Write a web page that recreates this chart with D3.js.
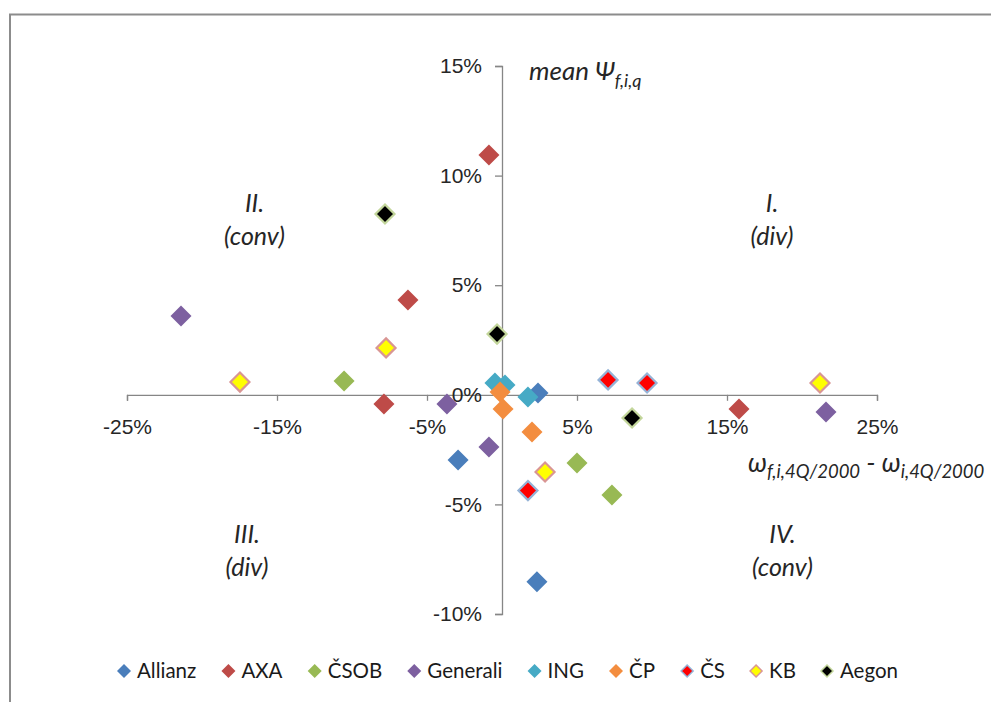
<!DOCTYPE html>
<html>
<head>
<meta charset="utf-8">
<script src="https://cdn.jsdelivr.net/npm/d3@7"></script>
<style>
  body { margin: 0; background: #fff; }
  svg { display: block; font-family: Lato, "Noto Sans", sans-serif; }
</style>
</head>
<body>
<div id="chart"></div>
<script>
// data (values in %)
const seriesNames = ['Allianz', 'AXA', 'ČSOB', 'Generali', 'ING', 'ČP', 'ČS', 'KB', 'Aegon'];
const fillColors = ['#4A7EBB', '#BE4B48', '#98B954', '#7D60A0', '#46AAC5', '#F38D3F', '#FF0000', '#FFFF00', '#000000'];
const strokeColors = [null, null, null, null, null, null, '#95B3D7', '#D99694', '#C3D69B'];

const allianzX = [-2.93, 2.33, 2.4];
const allianzY = [-2.97, -8.53, 0.08];
const axaX = [-0.87, -6.27, -7.87, 15.8];
const axaY = [10.94, 4.33, -0.42, -0.65];
const csobX = [-10.53, 5.0, 7.33];
const csobY = [0.63, -3.11, -4.57];
const generaliX = [-21.4, -3.67, -0.87, 21.6];
const generaliY = [3.6, -0.42, -2.38, -0.78];
const ingX = [-0.47, 0.2, 1.73];
const ingY = [0.54, 0.45, -0.1];
const cpX = [-0.13, 0.07, 2.0];
const cpY = [0.13, -0.65, -1.7];
const csX = [7.07, 9.67, 1.73];
const csY = [0.68, 0.54, -4.37];
const kbX = [-17.47, -7.73, 2.87, 21.2];
const kbY = [0.58, 2.14, -3.52, 0.54];
const aegonX = [-7.8, -0.33, 8.67];
const aegonY = [8.25, 2.77, -1.06];

const xTicks = [-25, -15, -5, 5, 15, 25];
const yTicks = [-10, -5, 0, 5, 10, 15];

const quadrantLabels = [
  {lines: ['I.', '(div)'], x: 18, y: 8.35},
  {lines: ['II.', '(conv)'], x: -16.5, y: 8.35},
  {lines: ['III.', '(div)'], x: -17, y: -6.75},
  {lines: ['IV.', '(conv)'], x: 18.7, y: -6.75}
];

const allX = [allianzX, axaX, csobX, generaliX, ingX, cpX, csX, kbX, aegonX];
const allY = [allianzY, axaY, csobY, generaliY, ingY, cpY, csY, kbY, aegonY];

const width = 991, height = 702;
const svg = d3.select('#chart').append('svg')
  .attr('width', width).attr('height', height);

// outer frame (only left and top edges visible)
svg.append('path')
  .attr('d', `M10,${height} V14.5 H${width}`)
  .attr('fill', 'none')
  .attr('stroke', '#8c8c8c')
  .attr('stroke-width', 2);

const x = d3.scaleLinear().domain([-25, 25]).range([127, 877]);
const y = d3.scaleLinear().domain([-10, 15]).range([614, 66]);
const axisColor = '#868686';

// x axis through y = 0
const xAxis = svg.append('g').attr('transform', `translate(0,${y(0)})`)
  .call(d3.axisBottom(x).tickValues(xTicks).tickSize(6).tickFormat(d => d + '%'));
// y axis through x = 0
const yAxis = svg.append('g').attr('transform', `translate(${x(0)},0)`)
  .call(d3.axisLeft(y).tickValues(yTicks).tickSize(7).tickFormat(d => d + '%'));

[xAxis, yAxis].forEach(g => {
  g.select('.domain').attr('stroke', axisColor).attr('stroke-width', 1.3);
  g.selectAll('.tick line').attr('stroke', axisColor).attr('stroke-width', 1.3);
  g.selectAll('.tick text')
    .attr('fill', '#262626')
    .style('font-size', '21px');
});
xAxis.selectAll('.tick text').attr('dy', '0.71em').attr('y', 24);
yAxis.selectAll('.tick text').attr('x', -20);

// quadrant labels
quadrantLabels.forEach(q => {
  const t = svg.append('text')
    .attr('x', x(q.x)).attr('y', y(q.y))
    .attr('text-anchor', 'middle')
    .attr('font-style', 'italic')
    .attr('font-size', 25)
    .attr('fill', '#262626');
  q.lines.forEach((l, i) => {
    t.append('tspan').attr('x', x(q.x)).attr('dy', i === 0 ? 0 : 33).text(l);
  });
});

// axis titles
const yTitle = svg.append('text')
  .attr('x', 529).attr('y', 80)
  .attr('font-style', 'italic').attr('font-size', 26).attr('fill', '#262626');
yTitle.append('tspan').text('mean Ψ');
yTitle.append('tspan').attr('font-size', 18).attr('dy', 7).text('f,i,q');

const xTitle = svg.append('text')
  .attr('x', 748).attr('y', 472)
  .attr('font-style', 'italic').attr('font-size', 26.5).attr('fill', '#262626');
xTitle.append('tspan').text('ω');
xTitle.append('tspan').attr('font-size', 18.5).attr('dy', 6).text('f,i,4Q/2000');
xTitle.append('tspan').attr('dy', -6).text(' - ω');
xTitle.append('tspan').attr('font-size', 18.5).attr('dy', 6).text('i,4Q/2000');

// markers
const diamond = r => `M0,${-r}L${r},0L0,${r}L${-r},0Z`;
seriesNames.forEach((name, s) => {
  const pts = allX[s].map((v, i) => ({x: v, y: allY[s][i]}));
  svg.append('g').selectAll('path')
    .data(pts)
    .join('path')
    .attr('transform', d => `translate(${x(d.x)},${y(d.y)})`)
    .attr('d', strokeColors[s] ? diamond(9.5) : diamond(10.5))
    .attr('fill', fillColors[s])
    .attr('stroke', strokeColors[s] || 'none')
    .attr('stroke-width', 2.2);
});

// legend
const legend = svg.append('g').attr('transform', 'translate(0,671)');
const items = legend.selectAll('g').data(seriesNames).join('g');
items.append('path')
  .attr('d', (d, i) => strokeColors[i] ? diamond(6) : diamond(7))
  .attr('fill', (d, i) => fillColors[i])
  .attr('stroke', (d, i) => strokeColors[i] || 'none')
  .attr('stroke-width', 1.5);
items.append('text')
  .attr('x', 13).attr('dy', '0.35em')
  .attr('font-size', 20.5).attr('fill', '#1a1a1a')
  .text(d => d);
let cursor = 0;
const widths = [];
items.each(function() { widths.push(this.getBBox().width); });
const total = d3.sum(widths);
const gap = (897 - 117 - total) / (widths.length - 1);
cursor = 124;
items.attr('transform', (d, i) => {
  const tx = cursor;
  cursor += widths[i] + gap;
  return `translate(${tx},0)`;
});
</script>
</body>
</html>
